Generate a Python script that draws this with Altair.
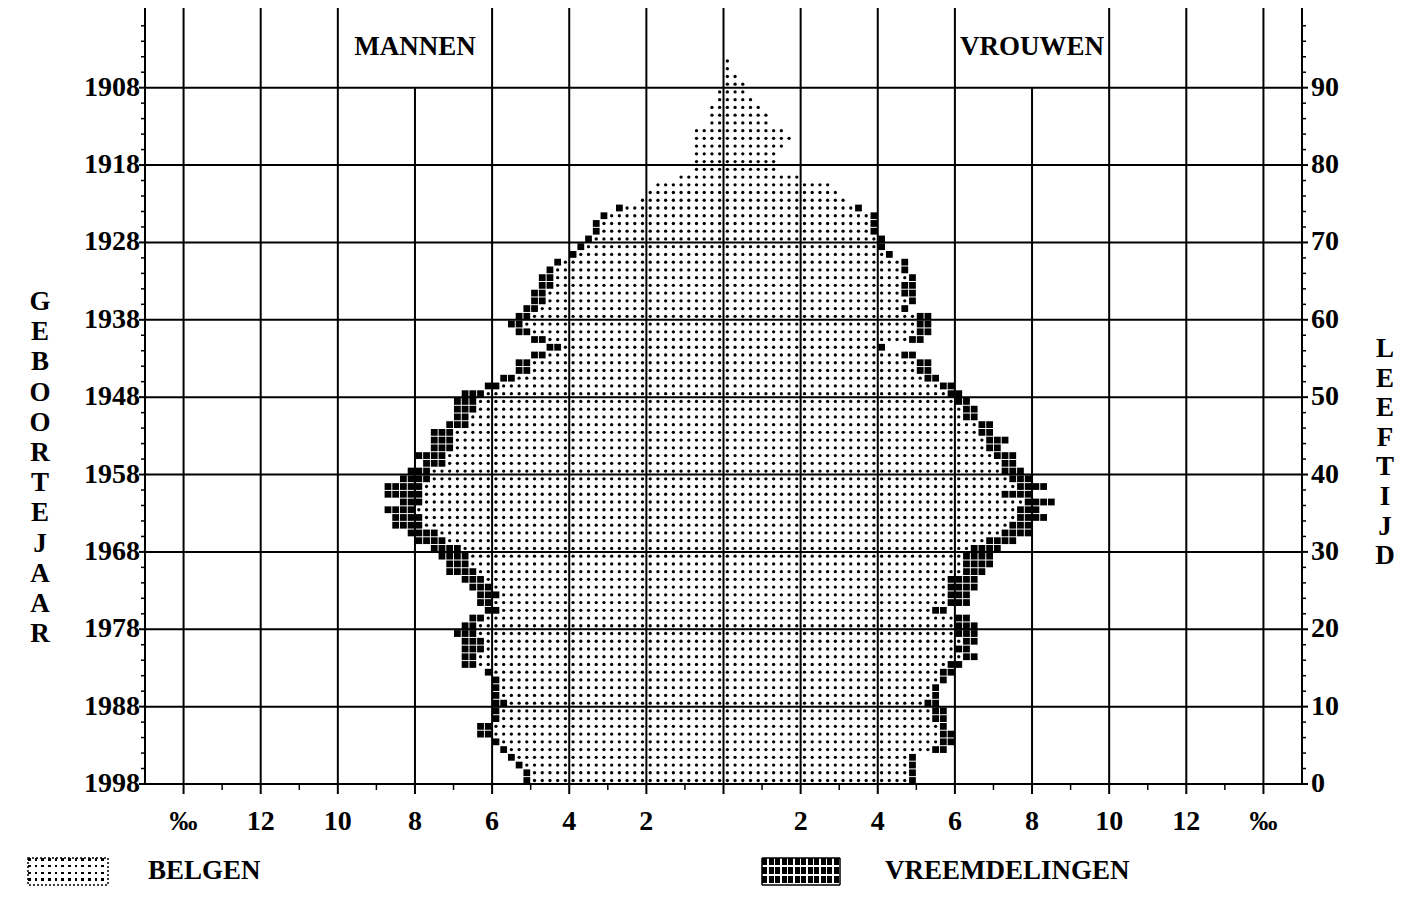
import altair as alt
import pandas as pd

# ---------------- data (per mille of total population, per age) ----------------
ages = list(range(94))

men_belgen = [
    5.0, 5.0, 5.2, 5.4, 5.6, 5.8, 6.0, 6.0, 5.8, 5.8,
    5.6, 5.8, 5.8, 5.8, 6.0, 6.4, 6.4, 6.2, 6.2, 6.4,
    6.4, 6.2, 5.8, 6.0, 5.8, 6.0, 6.2, 6.4, 6.6, 6.6,
    6.8, 7.2, 7.4, 7.8, 7.8, 8.0, 7.8, 7.8, 7.8, 7.6,
    7.6, 7.2, 7.2, 7.0, 7.0, 7.0, 6.6, 6.6, 6.4, 6.4,
    6.2, 5.8, 5.4, 5.0, 5.0, 4.6, 4.2, 4.6, 5.0, 5.2,
    5.0, 4.8, 4.6, 4.6, 4.4, 4.4, 4.4, 4.2, 3.8, 3.6,
    3.4, 3.2, 3.2, 3.0, 2.6, 2.2, 2.0, 1.8, 1.2, 0.8,
    0.8, 0.8, 0.8, 0.8, 0.8, 0.4, 0.4, 0.4, 0.2, 0.2,
    0.0, 0.0, 0.0, 0.0,
]
men_vreemd = [
    0.2, 0.2, 0.2, 0.2, 0.2, 0.2, 0.4, 0.4, 0.2, 0.2,
    0.4, 0.2, 0.2, 0.2, 0.2, 0.4, 0.4, 0.6, 0.6, 0.6,
    0.4, 0.4, 0.4, 0.4, 0.6, 0.6, 0.6, 0.8, 0.6, 0.8,
    0.8, 0.8, 0.8, 0.8, 0.8, 0.8, 0.6, 1.0, 1.0, 0.8,
    0.6, 0.6, 0.8, 0.6, 0.6, 0.6, 0.6, 0.4, 0.6, 0.6,
    0.6, 0.4, 0.4, 0.4, 0.4, 0.4, 0.4, 0.4, 0.4, 0.4,
    0.4, 0.4, 0.4, 0.4, 0.4, 0.4, 0.2, 0.2, 0.2, 0.2,
    0.2, 0.2, 0.2, 0.2, 0.2, 0.0, 0.0, 0.0, 0.0, 0.0,
    0.0, 0.0, 0.0, 0.0, 0.0, 0.0, 0.0, 0.0, 0.0, 0.0,
    0.0, 0.0, 0.0, 0.0,
]
vrouwen_belgen = [
    4.8, 4.8, 4.8, 4.8, 5.4, 5.6, 5.6, 5.6, 5.4, 5.4,
    5.2, 5.4, 5.4, 5.6, 5.6, 5.8, 6.2, 6.0, 6.2, 6.0,
    6.0, 6.0, 5.4, 5.8, 5.8, 5.8, 5.8, 6.2, 6.2, 6.2,
    6.4, 6.8, 7.2, 7.4, 7.6, 7.6, 7.8, 7.2, 7.6, 7.4,
    7.2, 7.2, 7.0, 6.8, 6.8, 6.6, 6.6, 6.2, 6.2, 6.0,
    5.8, 5.6, 5.2, 5.0, 5.0, 4.6, 4.0, 4.8, 5.0, 5.0,
    5.0, 4.6, 4.8, 4.6, 4.6, 4.8, 4.6, 4.6, 4.2, 4.0,
    4.0, 3.8, 3.8, 3.8, 3.4, 3.2, 3.0, 2.8, 2.0, 1.4,
    1.4, 1.4, 1.6, 1.8, 1.6, 1.2, 1.2, 1.0, 0.8, 0.6,
    0.6, 0.4, 0.2, 0.2,
]
vrouwen_vreemd = [
    0.2, 0.2, 0.2, 0.2, 0.4, 0.4, 0.4, 0.2, 0.4, 0.4,
    0.4, 0.2, 0.2, 0.2, 0.4, 0.4, 0.4, 0.4, 0.4, 0.6,
    0.6, 0.4, 0.4, 0.6, 0.6, 0.8, 0.8, 0.6, 0.8, 0.8,
    0.8, 0.8, 0.8, 0.6, 0.8, 0.6, 0.8, 0.8, 0.8, 0.6,
    0.6, 0.4, 0.6, 0.4, 0.6, 0.4, 0.4, 0.4, 0.4, 0.4,
    0.4, 0.4, 0.4, 0.4, 0.4, 0.4, 0.2, 0.4, 0.4, 0.4,
    0.4, 0.2, 0.2, 0.4, 0.4, 0.2, 0.2, 0.2, 0.2, 0.2,
    0.2, 0.2, 0.2, 0.2, 0.2, 0.0, 0.0, 0.0, 0.0, 0.0,
    0.0, 0.0, 0.0, 0.0, 0.0, 0.0, 0.0, 0.0, 0.0, 0.0,
    0.0, 0.0, 0.0, 0.0,
]

grid_x = [-14, -12, -10, -8, -6, -4, -2, 0, 2, 4, 6, 8, 10, 12, 14]
x_labels = ["‰", "12", "10", "8", "6", "4", "2", "", "2", "4", "6", "8", "10", "12", "‰"]
grid_y = [10, 20, 30, 40, 50, 60, 70, 80, 90]
label_ages = [0, 10, 20, 30, 40, 50, 60, 70, 80, 90]
minor_x = [-13, -11, -9, -7, -5, -3, -1, 1, 3, 5, 7, 9, 11, 13]
minor_ages = [a for a in range(2, 100, 2) if a % 10]
survey_year = 1998

# ---------------- layout / style ----------------
CELL = 0.2          # one printed cell = 0.2 per mille
W, H = 1157, 776
YMAX = 100.3
FONT = "Liberation Serif"
FS = 28

rows = []
for sign, bel, vre in [(-1, men_belgen, men_vreemd), (1, vrouwen_belgen, vrouwen_vreemd)]:
    for a, b, v in zip(ages, bel, vre):
        nb = int(round(b / CELL))
        nv = int(round(v / CELL))
        for j in range(nb + nv):
            rows.append({"x": sign * (j + 0.5) * CELL, "y": a + 0.45,
                         "groep": "Belgen" if j < nb else "Vreemdelingen"})
cells = pd.DataFrame(rows)

xs = alt.Scale(domain=[-15, 15], nice=False, zero=False)
ys = alt.Scale(domain=[0, YMAX], nice=False, zero=False)

gx_df = pd.DataFrame({"gx": grid_x, "gl": x_labels})
gy_df = pd.DataFrame({"gy": grid_y})
one = pd.DataFrame({"k": [0]})
lab_df = pd.DataFrame({"ra": label_ages,
                       "rl": [str(a) for a in label_ages],
                       "yl": [str(survey_year - a) for a in label_ages]})
mt_df = pd.DataFrame({"ma": minor_ages})
mx_df = pd.DataFrame({"mx": minor_x})

line = dict(color="black", strokeWidth=2)
thin = dict(color="black", strokeWidth=1.5)

# grid and frame
vgrid = alt.Chart(gx_df).transform_filter("abs(datum.gx) != 8").mark_rule(**line).encode(
    x=alt.X("gx:Q", scale=xs, axis=None), y=alt.value(0), y2=alt.value(H))
vgrid8 = alt.Chart(gx_df).transform_filter("abs(datum.gx) == 8").transform_calculate(
    top="90", bot="0").mark_rule(**line).encode(
    x=alt.X("gx:Q", scale=xs, axis=None),
    y=alt.Y("bot:Q", scale=ys, axis=None), y2="top:Q")
hgrid = alt.Chart(gy_df).mark_rule(**line).encode(
    y=alt.Y("gy:Q", scale=ys, axis=None), x=alt.value(0), x2=alt.value(W))
frame_l = alt.Chart(one).mark_rule(**line).encode(x=alt.value(0), y=alt.value(0), y2=alt.value(H))
frame_r = alt.Chart(one).mark_rule(**line).encode(x=alt.value(W), y=alt.value(0), y2=alt.value(H))
frame_b = alt.Chart(one).mark_rule(**line).encode(y=alt.value(H), x=alt.value(0), x2=alt.value(W))

# ticks
minor_left = alt.Chart(mt_df).mark_rule(**thin).encode(
    y=alt.Y("ma:Q", scale=ys, axis=None), x=alt.value(-4), x2=alt.value(0))
minor_right = alt.Chart(mt_df).mark_rule(**thin).encode(
    y=alt.Y("ma:Q", scale=ys, axis=None), x=alt.value(W), x2=alt.value(W + 4))
major_left = alt.Chart(lab_df).mark_rule(**line).encode(
    y=alt.Y("ra:Q", scale=ys, axis=None), x=alt.value(-6), x2=alt.value(0))
major_right = alt.Chart(lab_df).mark_rule(**line).encode(
    y=alt.Y("ra:Q", scale=ys, axis=None), x=alt.value(W), x2=alt.value(W + 6))
minor_bottom = alt.Chart(mx_df).mark_rule(**thin).encode(
    x=alt.X("mx:Q", scale=xs, axis=None), y=alt.value(H), y2=alt.value(H + 6))
major_bottom = alt.Chart(gx_df).mark_rule(**line).encode(
    x=alt.X("gx:Q", scale=xs, axis=None), y=alt.value(H), y2=alt.value(H + 10))

# tick labels
lab = dict(font=FONT, fontWeight="bold", fontSize=FS, color="black", baseline="middle")
left_labels = alt.Chart(lab_df).mark_text(align="right", **lab).encode(
    y=alt.Y("ra:Q", scale=ys, axis=None), x=alt.value(-5), text="yl:N")
right_labels = alt.Chart(lab_df).mark_text(align="left", **lab).encode(
    y=alt.Y("ra:Q", scale=ys, axis=None), x=alt.value(W + 9), text="rl:N")
bottom_labels = alt.Chart(gx_df).mark_text(align="center", **lab).encode(
    x=alt.X("gx:Q", scale=xs, axis=None), y=alt.value(H + 38), text="gl:N")

# population cells
dots = alt.Chart(cells).transform_filter(alt.datum.groep == "Belgen").mark_point(
    filled=True, shape="circle", size=11, color="black", opacity=1, strokeWidth=0
).encode(x=alt.X("x:Q", scale=xs, axis=None), y=alt.Y("y:Q", scale=ys, axis=None))
squares = alt.Chart(cells).transform_filter(alt.datum.groep == "Vreemdelingen").mark_point(
    filled=True, shape="square", size=46, color="black", opacity=1, strokeWidth=0
).encode(x=alt.X("x:Q", scale=xs, axis=None), y=alt.Y("y:Q", scale=ys, axis=None))

txt = dict(font=FONT, fontWeight="bold", fontSize=27, color="black")
sex_df = pd.DataFrame({"sx": [-8, 8], "st": ["MANNEN", "VROUWEN"]})
sex_labels = alt.Chart(sex_df).mark_text(align="center", baseline="middle", **txt).encode(
    x=alt.X("sx:Q", scale=xs, axis=None), y=alt.value(39), text="st:N")

title_left = alt.Chart(one).mark_text(align="center", baseline="middle", lineHeight=30.2, **txt).encode(
    x=alt.value(-105), y=alt.value(294), text=alt.value(list("GEBOORTEJAAR")))
title_right = alt.Chart(one).mark_text(align="center", baseline="middle", lineHeight=29.6, **txt).encode(
    x=alt.value(1240), y=alt.value(341), text=alt.value(list("LEEFTIJD")))


def stripe_stops(n, frac, ink, paper):
    stops = []
    for i in range(n):
        a = i / n + (0.001 if i else 0.0)
        b = (i + frac) / n
        c = (i + 1) / n
        stops += [
            alt.GradientStop(offset=round(a, 4), color=ink),
            alt.GradientStop(offset=round(b, 4), color=ink),
            alt.GradientStop(offset=round(b + 0.001, 4), color=paper),
            alt.GradientStop(offset=round(c, 4), color=paper),
        ]
    return stops


def grad(n, frac, ink, paper, vertical):
    return alt.LinearGradient(
        gradient="linear", stops=stripe_stops(n, frac, ink, paper),
        x1=0, y1=0, x2=0 if vertical else 1, y2=1 if vertical else 0)


CLEAR = "rgba(255,255,255,0)"


def swatch(x0, x1, y0, y1, ncol, nrow, frac, dashed):
    enc = dict(x=alt.value(x0), x2=alt.value(x1), y=alt.value(y0), y2=alt.value(y1))
    a = alt.Chart(one).mark_rect(fill=grad(ncol, frac, "black", "white", False)).encode(**enc)
    b = alt.Chart(one).mark_rect(fill=grad(nrow, frac, CLEAR, "white", True)).encode(**enc)
    c = alt.Chart(one).mark_rect(fill="transparent", stroke="black", strokeWidth=1.5,
                                  strokeDash=[2, 2] if dashed else [1, 0]).encode(**enc)
    return [a, b, c]


leg_belg = swatch(-117, -37, 850, 877, 12, 4, 0.4, True)
leg_vreemd = swatch(617, 695, 850, 877, 12, 3, 0.8, False)
leg_t1 = alt.Chart(one).mark_text(align="left", baseline="middle", **txt).encode(
    x=alt.value(3), y=alt.value(863), text=alt.value("BELGEN"))
leg_t2 = alt.Chart(one).mark_text(align="left", baseline="middle", **txt).encode(
    x=alt.value(740), y=alt.value(863), text=alt.value("VREEMDELINGEN"))

chart = alt.layer(
    vgrid, vgrid8, hgrid, frame_l, frame_r, frame_b,
    minor_left, minor_right, major_left, major_right, minor_bottom, major_bottom,
    left_labels, right_labels, bottom_labels,
    dots, squares, sex_labels, title_left, title_right,
    *leg_belg, *leg_vreemd, leg_t1, leg_t2,
).properties(
    width=W, height=H,
    padding={"left": 137, "top": 0, "right": 100, "bottom": 104},
    autosize=alt.AutoSizeParams(type="none"),
).configure(background="white").configure_view(stroke=None)

chart.save("out.html", embed_options={"renderer": "svg", "actions": False})
